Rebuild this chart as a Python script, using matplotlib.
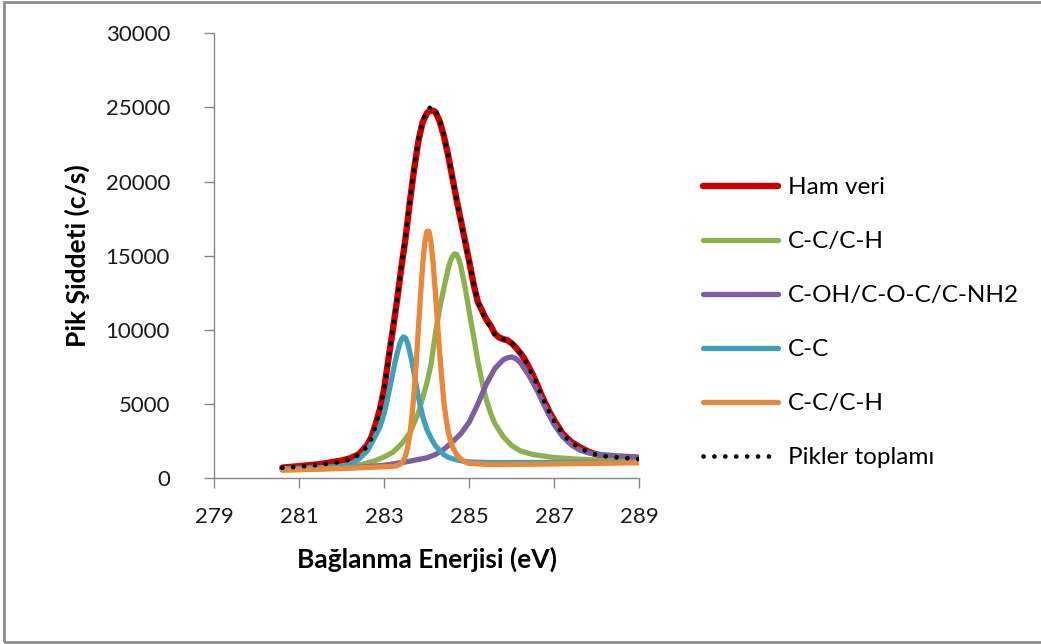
import matplotlib
matplotlib.use("Agg")
import matplotlib.pyplot as plt
from matplotlib.patches import Rectangle

plt.rcParams["font.family"] = ["Lato", "DejaVu Sans"]

# raw spectrum (Ham veri)
raw_e = [280.6, 281.0, 281.5, 282.0, 282.2, 282.4, 282.6, 282.7, 282.8, 282.9,
         283.0, 283.1, 283.2, 283.3, 283.4, 283.5, 283.6, 283.7, 283.8, 283.9,
         284.0, 284.05, 284.1, 284.15, 284.2, 284.3, 284.4, 284.5, 284.6, 284.7,
         284.8, 284.9, 285.0, 285.1, 285.2, 285.3, 285.4, 285.5, 285.6, 285.7,
         285.8, 285.9, 286.0, 286.1, 286.2, 286.3, 286.4, 286.5, 286.6, 286.7,
         286.8, 286.9, 287.0, 287.2, 287.4, 287.6, 287.8, 288.0, 288.2, 288.5,
         288.8, 289.0]
raw_y = [720, 820, 960, 1200, 1350, 1620, 2250, 2800, 3700, 4700,
         6100, 8100, 10000, 12000, 14200, 16200, 18600, 20800, 22700, 24000,
         24600, 24750, 24800, 24780, 24700, 24100, 23100, 21800, 20300, 18800,
         17400, 16000, 14600, 13100, 11900, 11300, 10700, 10300, 9750, 9500,
         9380, 9300, 9100, 8800, 8450, 8050, 7500, 6950, 6300, 5600,
         5000, 4400, 3900, 3000, 2450, 2100, 1800, 1600, 1500, 1420,
         1370, 1320]

# sum of fitted peaks (Pikler toplamı)
sum_e = [280.6, 281.0, 281.5, 282.0, 282.2, 282.4, 282.6, 282.7, 282.8, 282.9,
         283.0, 283.1, 283.2, 283.3, 283.4, 283.5, 283.6, 283.7, 283.8, 283.9,
         284.0, 284.1, 284.2, 284.3, 284.4, 284.5, 284.6, 284.7, 284.8, 284.9,
         285.0, 285.1, 285.2, 285.3, 285.4, 285.5, 285.6, 285.7, 285.8, 285.9,
         286.0, 286.1, 286.2, 286.3, 286.4, 286.5, 286.6, 286.7, 286.8, 286.9,
         287.0, 287.2, 287.4, 287.6, 287.8, 288.0, 288.2, 288.5, 288.8, 289.0]
sum_y = [700, 780, 920, 1120, 1280, 1580, 2150, 2700, 3600, 4700,
         6100, 8100, 10100, 12100, 14300, 16400, 18700, 20900, 22800, 24100,
         24800, 25050, 24850, 24200, 23100, 21800, 20300, 18800, 17300, 15900,
         14500, 13100, 11900, 11200, 10600, 10150, 9700, 9480, 9380, 9300,
         9100, 8800, 8450, 8000, 7450, 6900, 6250, 5550, 4950, 4350,
         3850, 2950, 2400, 2050, 1780, 1580, 1480, 1400, 1350, 1300]

# C-C/C-H (green)
green_e = [280.6, 281.0, 281.5, 282.0, 282.5, 282.8, 283.0, 283.2, 283.4, 283.6,
           283.8, 284.0, 284.1, 284.2, 284.3, 284.4, 284.5, 284.55, 284.6, 284.65,
           284.7, 284.75, 284.8, 284.9, 285.0, 285.1, 285.2, 285.3, 285.4, 285.5,
           285.6, 285.8, 286.0, 286.2, 286.5, 287.0, 287.5, 288.0, 288.5, 289.0]
green_y = [620, 650, 700, 780, 950, 1200, 1450, 1750, 2300, 3050,
           4400, 6400, 7700, 9700, 11400, 12800, 14100, 14600, 14950, 15130,
           15100, 14800, 14300, 12900, 11200, 9600, 7900, 6500, 5300, 4400,
           3700, 2800, 2200, 1850, 1600, 1400, 1300, 1230, 1200, 1180]

# C-OH/C-O-C/C-NH2 (purple)
purple_e = [280.6, 281.0, 281.5, 282.0, 282.5, 283.0, 283.5, 284.0, 284.2, 284.4,
            284.6, 284.8, 285.0, 285.2, 285.4, 285.6, 285.8, 285.9, 286.0, 286.1,
            286.2, 286.4, 286.6, 286.8, 287.0, 287.2, 287.4, 287.6, 287.8, 288.0,
            288.5, 289.0]
purple_y = [600, 620, 650, 690, 760, 880, 1100, 1380, 1600, 1950,
            2450, 3000, 3800, 5000, 6350, 7400, 8000, 8130, 8180, 8060,
            7800, 6950, 5900, 4700, 3600, 2800, 2250, 1900, 1720, 1620,
            1510, 1440]

# C-C (cyan)
cyan_e = [280.6, 281.0, 281.5, 282.0, 282.2, 282.4, 282.6, 282.8, 282.9, 283.0,
          283.1, 283.2, 283.25, 283.3, 283.35, 283.4, 283.45, 283.5, 283.55, 283.6,
          283.65, 283.7, 283.8, 283.9, 284.0, 284.1, 284.2, 284.3, 284.4, 284.5,
          284.6, 284.8, 285.0, 285.5, 286.0, 287.0, 288.0, 289.0]
cyan_y = [650, 680, 720, 800, 950, 1300, 1850, 2900, 3500, 4400,
          5700, 7100, 7800, 8400, 8950, 9350, 9530, 9450, 9100, 8500,
          7850, 7100, 5500, 4200, 3300, 2700, 2200, 1900, 1600, 1420,
          1320, 1180, 1100, 1060, 1060, 1070, 1080, 1090]

# C-C/C-H (orange)
orange_e = [280.6, 281.0, 281.5, 282.0, 282.5, 283.0, 283.2, 283.3, 283.4, 283.45,
            283.5, 283.55, 283.6, 283.65, 283.7, 283.75, 283.8, 283.85, 283.9, 283.95,
            284.0, 284.05, 284.1, 284.15, 284.2, 284.25, 284.3, 284.35, 284.4, 284.45,
            284.5, 284.55, 284.6, 284.7, 284.8, 284.9, 285.0, 285.5, 286.0, 287.0,
            288.0, 289.0]
orange_y = [540, 580, 620, 660, 720, 780, 800, 850, 1000, 1200,
            1540, 2100, 2950, 4170, 5780, 7750, 9990, 12250, 14300, 15840,
            16630, 16660, 15860, 14450, 12600, 10550, 8600, 6800, 5200, 4100,
            3200, 2600, 2150, 1600, 1300, 1100, 1000, 930, 940, 970,
            1010, 1050]

x_ticks = [279, 281, 283, 285, 287, 289]
y_ticks = [0, 5000, 10000, 15000, 20000, 25000, 30000]

fig = plt.figure(figsize=(10.41, 6.44), dpi=100)
ax = fig.add_axes([0.2059, 0.2573, 0.6141 - 0.2059, 0.9483 - 0.2573])

ax.plot(raw_e, raw_y, color="#CC0000", linewidth=4.6, label="Ham veri", solid_capstyle="round")
ax.plot(green_e, green_y, color="#8DB050", linewidth=3.8, label="C-C/C-H", solid_capstyle="round")
ax.plot(purple_e, purple_y, color="#7D5FA0", linewidth=3.8, label="C-OH/C-O-C/C-NH2", solid_capstyle="round")
ax.plot(cyan_e, cyan_y, color="#40A0B8", linewidth=3.8, label="C-C", solid_capstyle="round")
ax.plot(orange_e, orange_y, color="#E8883A", linewidth=3.8, label="C-C/C-H", solid_capstyle="round")
ax.plot(sum_e, sum_y, color="black", linewidth=3.4, linestyle=(0, (0.01, 2.3)),
        dash_capstyle="round", label="Pikler toplamı")

ax.set_xlim(279, 289)
ax.set_ylim(0, 30000)
ax.set_xticks(x_ticks)
ax.set_yticks(y_ticks)
ax.tick_params(direction="out", length=7, width=1, color="#868686", labelsize=16,
               labelcolor="#1a1a1a")
ax.tick_params(axis="x", pad=14)
ax.tick_params(axis="y", pad=25)
for side in ["top", "right"]:
    ax.spines[side].set_visible(False)
for side in ["left", "bottom"]:
    ax.spines[side].set_color("#868686")
    ax.spines[side].set_linewidth(1.0)

ax.set_xlabel("Bağlanma Enerjisi (eV)", fontsize=19, fontweight="bold", labelpad=14)
ax.set_ylabel("Pik Şiddeti (c/s)", fontsize=19, fontweight="bold", labelpad=11)

leg = ax.legend(loc="upper left", bbox_to_anchor=(703 / 1041, 1 - 177 / 644),
                bbox_transform=fig.transFigure, frameon=False, fontsize=17.5,
                handlelength=3.1, handletextpad=0.41, labelspacing=1.36,
                borderaxespad=0, borderpad=0)

fig.patches.append(Rectangle((3.5 / 1041, 2 / 644), 1.1, 1 - 3.5 / 644,
                             transform=fig.transFigure, fill=False,
                             edgecolor="#8c8c8c", linewidth=2.0))

fig.savefig("out.png", dpi=100)
